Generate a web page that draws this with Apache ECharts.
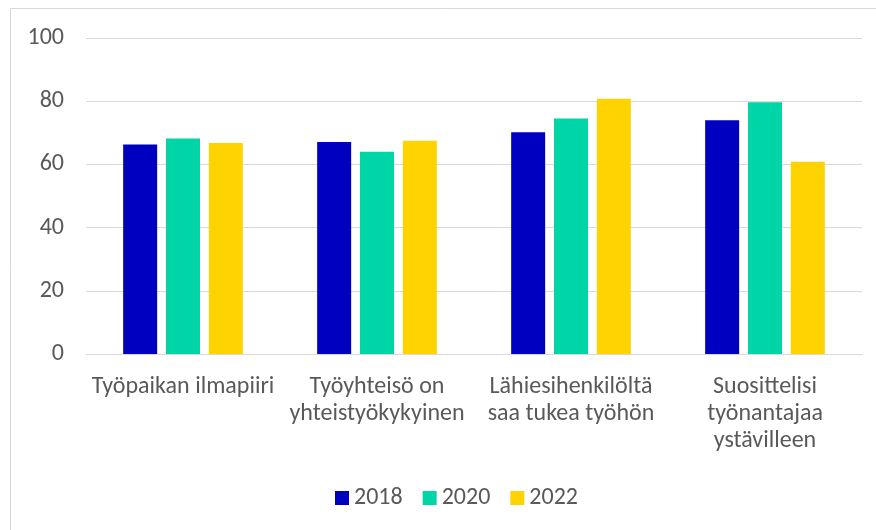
<!DOCTYPE html>
<html>
<head>
<meta charset="utf-8">
<script src="https://cdn.jsdelivr.net/npm/echarts@6/dist/echarts.min.js"></script>
<style>
  html, body { margin: 0; padding: 0; background: #fff; }
  #chart { width: 876px; height: 530px; }
</style>
</head>
<body>
<div id="chart"></div>
<script>
var categories = [
  'Työpaikan ilmapiiri',
  'Työyhteisö on\nyhteistyökykyinen',
  'Lähiesihenkilöltä\nsaa tukea työhön',
  'Suosittelisi\ntyönantajaa\nystävilleen'
]
var years = ['2018', '2020', '2022']
var values2018 = [66.3, 67.1, 70.2, 74.0]
var values2020 = [68.2, 64.0, 74.5, 79.7]
var values2022 = [66.8, 67.5, 80.8, 60.8]
var yTicks = [0, 20, 40, 60, 80, 100]

var colors = ['#0000C0', '#00D5A8', '#FFD300']
var font = 'Calibri, Carlito, Lato, sans-serif'

var myChart = echarts.init(document.getElementById('chart'))
myChart.setOption({
  animation: false,
  color: colors,
  textStyle: { fontFamily: font },
  // outer chart border, right/bottom edges fall off the canvas
  graphic: [{
    type: 'rect',
    shape: { x: 10.5, y: 8.5, width: 880, height: 540 },
    style: { fill: 'none', stroke: '#d9d9d9', lineWidth: 1 },
    silent: true
  }],
  grid: { left: 86, right: 14, top: 38, bottom: 176 },
  legend: {
    left: 330,
    bottom: 15,
    itemWidth: 14,
    itemHeight: 14,
    itemGap: 20,
    icon: 'rect',
    textStyle: { fontSize: 24, color: '#595959', fontFamily: font },
    data: years
  },
  xAxis: {
    type: 'category',
    data: categories,
    axisLine: { lineStyle: { color: '#d9d9d9', width: 1 } },
    axisTick: { show: false },
    axisLabel: {
      color: '#595959',
      fontSize: 24,
      lineHeight: 27,
      margin: 19,
      interval: 0,
      fontFamily: font
    }
  },
  yAxis: {
    type: 'value',
    min: yTicks[0],
    max: yTicks[yTicks.length - 1],
    interval: 20,
    axisLine: { show: false },
    axisTick: { show: false },
    axisLabel: { color: '#595959', fontSize: 24, margin: 22, fontFamily: font },
    splitLine: { lineStyle: { color: '#d9d9d9', width: 1 } }
  },
  series: [
    { name: years[0], type: 'bar', data: values2018, barWidth: 34, barGap: '26%' },
    { name: years[1], type: 'bar', data: values2020, barWidth: 34, barGap: '26%' },
    { name: years[2], type: 'bar', data: values2022, barWidth: 34, barGap: '26%' }
  ]
})
</script>
</body>
</html>
